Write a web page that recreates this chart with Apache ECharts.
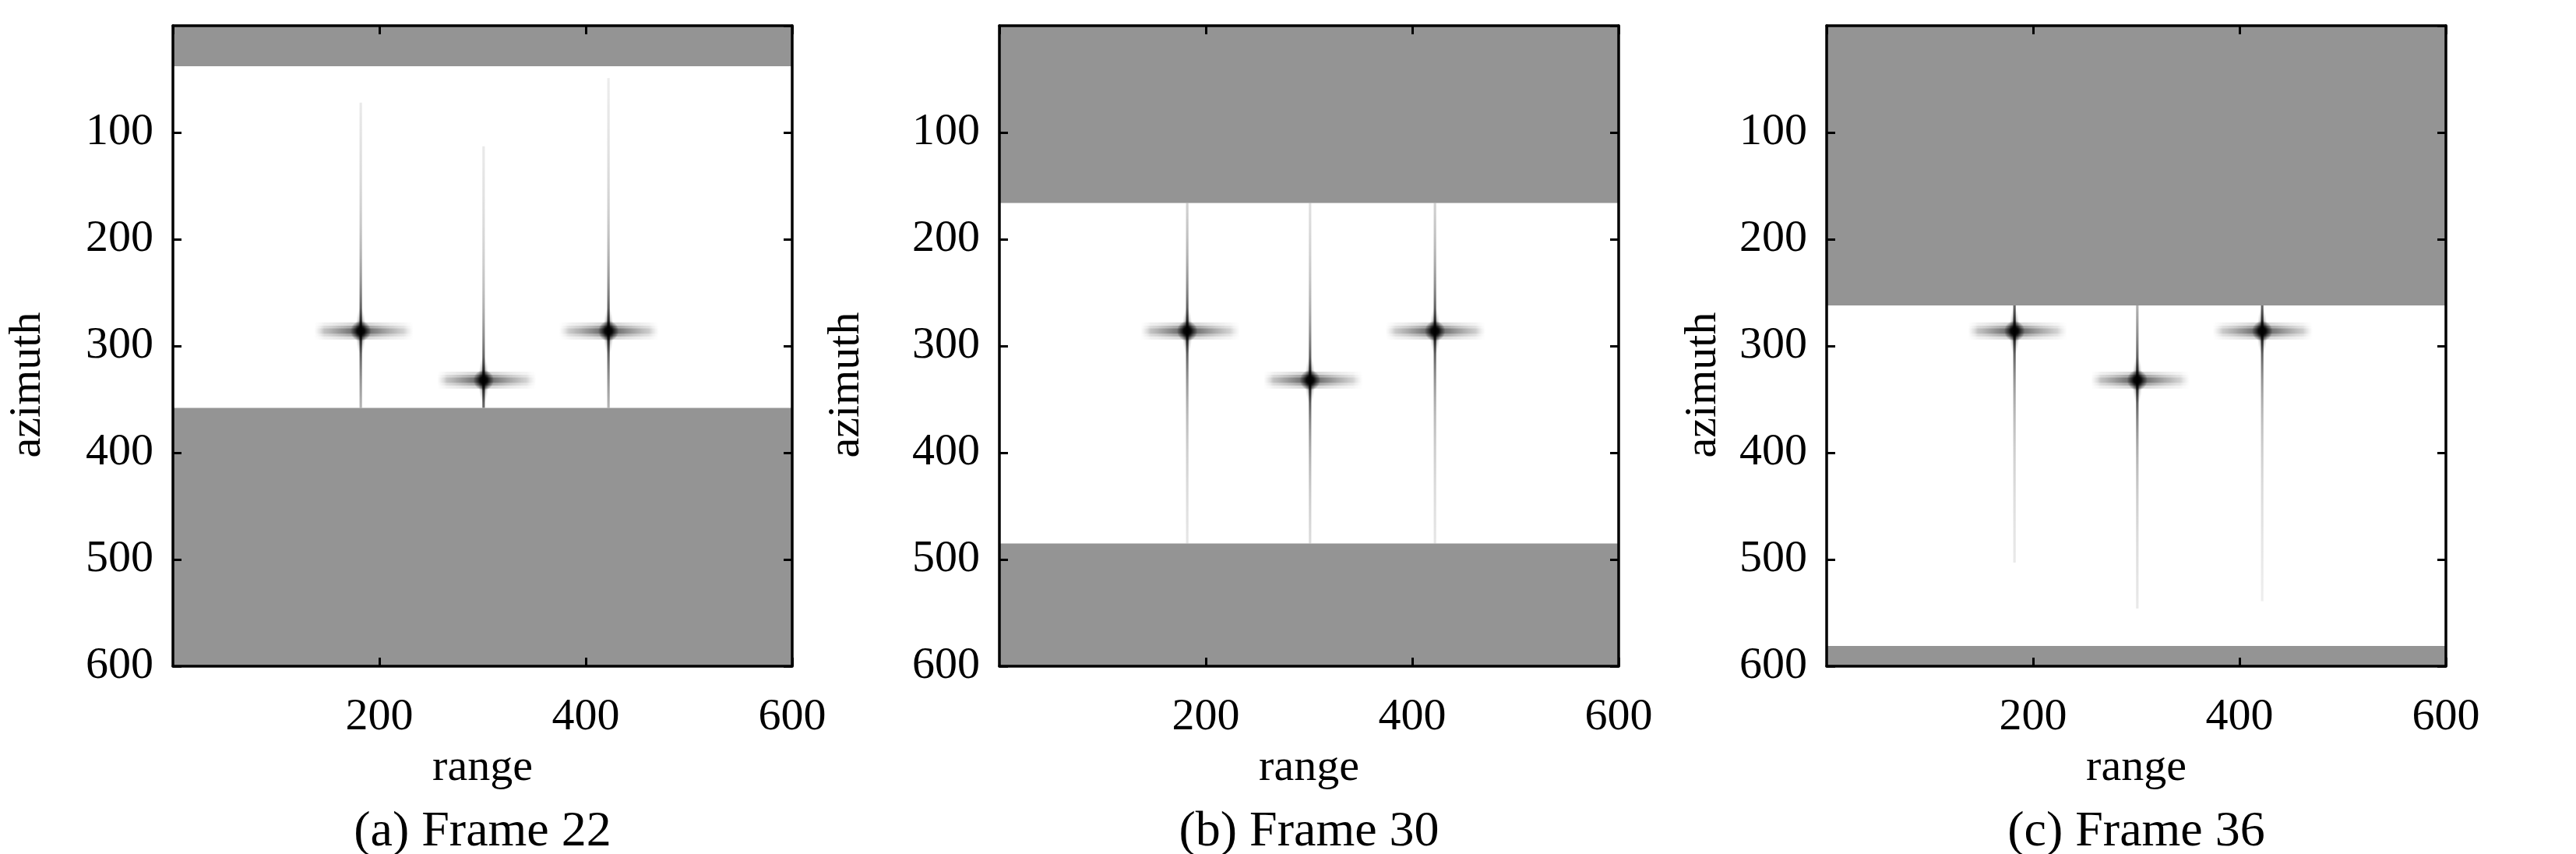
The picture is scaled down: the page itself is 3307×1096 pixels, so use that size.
<!DOCTYPE html>
<html><head><meta charset="utf-8">
<script src="https://cdn.jsdelivr.net/npm/echarts@6/dist/echarts.min.js"></script>
<style>html,body{margin:0;padding:0;background:#fff}#c{width:3307px;height:1096px}</style>
</head><body><div id="c"></div>
<script>
// ---------------- data ----------------
const captions = ['(a) Frame 22', '(b) Frame 30', '(c) Frame 36'];
const rangeTicks = [200, 400, 600];
const azimuthTicks = [100, 200, 300, 400, 500, 600];
const rangeExtent = [0, 600];
const azimuthExtent = [0, 600];
// azimuth rows holding echo data in each frame (outside them: gray)
const windowStart = [38, 166, 262];
const windowEnd = [358, 485, 581];
// point targets (range, azimuth)
const targetRange = [182, 301, 422];
const targetAzimuth = [286, 332, 286];
// visible range extent of each target's range sidelobe streak
const streakStart = [137, 256, 374];
const streakEnd = [233, 352, 471];
// visible azimuth extent of each target's azimuth trace, per frame
const traceStart = [[72, 113, 49], [166, 166, 166], [262, 262, 262]];
const traceEnd = [[358, 358, 358], [485, 485, 485], [503, 546, 539]];

// ---------------- layout / style ----------------
const FONT = "'Liberation Serif', 'Times New Roman', serif";
const gridLefts = [222, 1283, 2345];
const yNameGaps = [157, 167, 129];
const GW = 795, GT = 33, GH = 822;
const GRAY = '#949494';
const G = echarts.graphic;

function traceAlpha(d) {
  return Math.min(0.85, 0.6 * Math.exp(-d / 40) + 0.3 * Math.exp(-d / 170));
}
function streakProfile(d) {
  return 0.55 * Math.exp(-d / 18) + 0.45 * Math.exp(-(d / 40) * (d / 40));
}
function radial(stops) {
  return new G.RadialGradient(0.5, 0.5, 0.5, stops.map(s => ({offset: s[0], color: 'rgba(0,0,0,' + s[1] + ')'})));
}

function renderTarget(params, api) {
  const x = api.value(0), y = api.value(1), t0 = api.value(2), t1 = api.value(3), s0 = api.value(4), s1 = api.value(5);
  const c = api.coord([x, y]);
  const pt = api.coord([x, t0]), pb = api.coord([x, t1]);
  const pl = api.coord([s0, y]), pr = api.coord([s1, y]);
  const len = pb[1] - pt[1];
  // azimuth trace
  const stops = [];
  const N = 40;
  for (let k = 0; k <= N; k++) {
    const a = t0 + (t1 - t0) * k / N;
    stops.push({offset: k / N, color: 'rgba(0,0,0,' + traceAlpha(Math.abs(a - y)).toFixed(3) + ')'});
  }
  const fc = (c[1] - pt[1]) / len;
  if (fc > 0 && fc < 1) stops.push({offset: fc, color: 'rgba(0,0,0,' + traceAlpha(0).toFixed(3) + ')'});
  stops.sort((p, q) => p.offset - q.offset);
  const lw = api.size([2.4, 0])[0];
  const children = [
    {type: 'rect', shape: {x: c[0] - lw / 2, y: pt[1], width: lw, height: len},
      style: {fill: new G.LinearGradient(0, 0, 0, 1, stops)}}
  ];
  // range streak: layered bands with horizontal gradient
  const sw = pr[0] - pl[0];
  [[8, 0.2], [5, 0.3], [2.5, 0.4]].forEach(([hh, k]) => {
    const h = api.size([0, hh])[1];
    const hs = [];
    const M = 30;
    for (let m = 0; m <= M; m++) {
      const r = s0 + (s1 - s0) * m / M;
      const edge = Math.min(1, Math.min(m, M - m) / 3);
      hs.push({offset: m / M, color: 'rgba(0,0,0,' + (k * streakProfile(Math.abs(r - x)) * edge).toFixed(3) + ')'});
    }
    const fx = (c[0] - pl[0]) / sw;
    hs.push({offset: fx, color: 'rgba(0,0,0,' + k + ')'});
    hs.sort((p, q) => p.offset - q.offset);
    children.push({type: 'rect', shape: {x: pl[0], y: c[1] - h, width: sw, height: 2 * h},
      style: {fill: new G.LinearGradient(0, 0, 1, 0, hs)}});
  });
  // main lobe
  const vr = api.size([5, 0])[0];
  const vh = api.size([0, 22])[1];
  const dot = api.size([10, 0])[0];
  children.push({type: 'circle', shape: {cx: 0, cy: 0, r: vr}, x: c[0], y: c[1], scaleY: vh / vr,
    style: {fill: radial([[0, 0.6], [0.4, 0.35], [0.75, 0.1], [1, 0]])}});
  children.push({type: 'circle', shape: {cx: 0, cy: 0, r: dot}, x: c[0], y: c[1],
    style: {fill: radial([[0, 1], [0.35, 0.9], [0.65, 0.45], [1, 0]])}});
  return {type: 'group', children};
}

function renderBand(params, api) {
  const p0 = api.coord([api.value(0), api.value(2)]);
  const p1 = api.coord([api.value(1), api.value(3)]);
  return {type: 'rect', shape: {x: p0[0], y: p0[1], width: p1[0] - p0[0], height: p1[1] - p0[1]},
    style: {fill: GRAY}};
}

const axisLine = {show: true, onZero: false, lineStyle: {color: '#000', width: 3.5}};
const axisTick = {show: true, inside: true, length: 11, lineStyle: {color: '#000', width: 3}};
const labelStyle = {fontFamily: FONT, fontSize: 58, color: '#000'};

const option = {
  animation: false,
  backgroundColor: '#fff',
  title: [], grid: [], xAxis: [], yAxis: [], series: []
};

captions.forEach((cap, i) => {
  option.grid.push({left: gridLefts[i], top: GT, width: GW, height: GH, containLabel: false});
  option.title.push({text: cap, left: gridLefts[i] + GW / 2, top: 1036, textAlign: 'center', padding: 0,
    textStyle: {fontFamily: FONT, fontSize: 64, fontWeight: 'normal', color: '#000'}});
  const xBase = {gridIndex: i, type: 'value', min: rangeExtent[0], max: rangeExtent[1],
    interval: rangeTicks[1] - rangeTicks[0], splitLine: {show: false}, axisLine, axisTick, z: 10};
  const yBase = {gridIndex: i, type: 'value', inverse: true, min: azimuthExtent[0], max: azimuthExtent[1],
    interval: azimuthTicks[1] - azimuthTicks[0], splitLine: {show: false}, axisLine, axisTick, z: 10};
  option.xAxis.push(Object.assign({}, xBase, {position: 'bottom', name: 'range', nameLocation: 'middle', nameGap: 102,
    nameTextStyle: labelStyle,
    axisLabel: Object.assign({margin: 37, showMinLabel: false,
      formatter: v => rangeTicks.indexOf(v) >= 0 ? String(v) : ''}, labelStyle)}));
  option.xAxis.push(Object.assign({}, xBase, {position: 'top', axisLabel: {show: false}}));
  option.yAxis.push(Object.assign({}, yBase, {position: 'left', name: 'azimuth', nameLocation: 'middle', nameGap: yNameGaps[i],
    nameTextStyle: Object.assign({padding: [0, 100, 0, 0]}, labelStyle),
    axisLabel: Object.assign({margin: 25, showMinLabel: false,
      formatter: v => azimuthTicks.indexOf(v) >= 0 ? String(v) : ''}, labelStyle)}));
  option.yAxis.push(Object.assign({}, yBase, {position: 'right', axisLabel: {show: false}}));

  option.series.push({type: 'custom', xAxisIndex: 2 * i, yAxisIndex: 2 * i, z: 2, clip: true, silent: true,
    renderItem: renderTarget, encode: {x: 0, y: 1},
    data: targetRange.map((r, j) => [r, targetAzimuth[j], traceStart[i][j], traceEnd[i][j], streakStart[j], streakEnd[j]])});
  option.series.push({type: 'custom', xAxisIndex: 2 * i, yAxisIndex: 2 * i, z: 3, clip: true, silent: true,
    renderItem: renderBand, encode: {x: [0, 1], y: [2, 3]},
    data: [[rangeExtent[0], rangeExtent[1], azimuthExtent[0], windowStart[i]],
           [rangeExtent[0], rangeExtent[1], windowEnd[i], azimuthExtent[1]]]});
});

const chart = echarts.init(document.getElementById('c'), null, {renderer: 'canvas'});
chart.setOption(option);
</script></body></html>
